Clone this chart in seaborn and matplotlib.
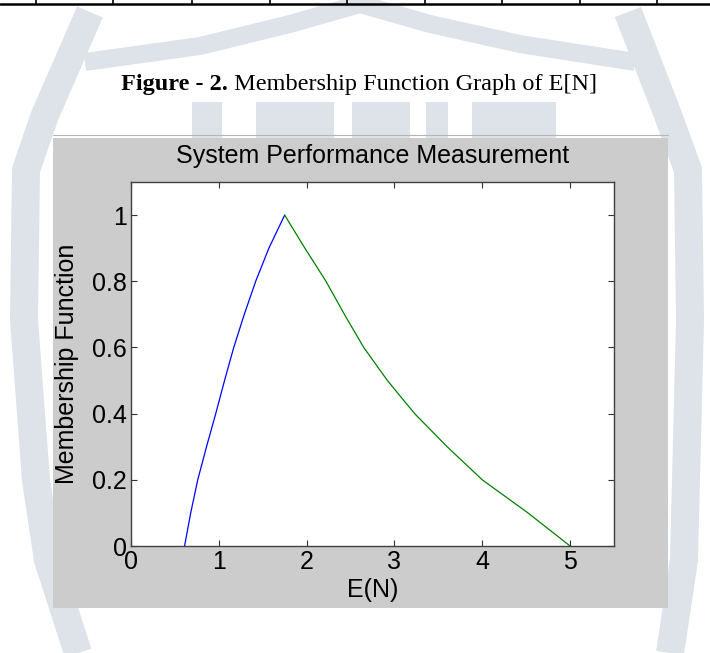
import matplotlib
matplotlib.use("Agg")
import matplotlib.pyplot as plt
import seaborn as sns
import pandas as pd
from matplotlib.patches import Rectangle
from matplotlib.lines import Line2D

# ---------------- data ----------------
alpha_levels = [0.0, 0.1, 0.2, 0.3, 0.4, 0.5, 0.6, 0.7, 0.8, 0.9, 1.0]
left_en = [0.61, 0.68, 0.76, 0.86, 0.965, 1.065, 1.17, 1.29, 1.42, 1.57, 1.75]
right_en = [5.0, 4.52, 4.0, 3.60, 3.23, 2.92, 2.65, 2.43, 2.22, 1.98, 1.75]
x_ticks = [0, 1, 2, 3, 4, 5]
x_tick_labels = ["0", "1", "2", "3", "4", "5"]
y_ticks = [0, 0.2, 0.4, 0.6, 0.8, 1.0]
y_tick_labels = ["0", "0.2", "0.4", "0.6", "0.8", "1"]
title_text = "System Performance Measurement"
x_label = "E(N)"
y_label = "Membership Function"
caption_bold = "Figure - 2."
caption_rest = " Membership Function Graph of E[N]"

# ---------------- style ----------------
sns.set_theme(style="ticks")
plt.rcParams["font.family"] = ["Liberation Sans", "DejaVu Sans"]

W, H = 710, 653
fig = plt.figure(figsize=(W / 100, H / 100), dpi=100)
fig.patch.set_facecolor("white")


def fx(x):
    return x / W


def fy(y):
    return 1 - y / H


WM = "#dde3e8"  # faint watermark colour


def band(points, width_px):
    xs = [fx(p[0]) for p in points]
    ys = [fy(p[1]) for p in points]
    fig.add_artist(Line2D(xs, ys, transform=fig.transFigure, color=WM,
                          lw=width_px * 0.72, solid_capstyle="butt",
                          solid_joinstyle="round", zorder=-3))


# faint watermark (shield outline + letter tops)
band([(85, 62), (200, 46), (290, 24), (360, 4), (430, 24), (520, 44), (635, 62)], 18)
band([(90, 12), (45, 115), (26, 170), (24, 320), (36, 480), (48, 560), (78, 653)], 28)
band([(628, 12), (668, 115), (688, 170), (690, 320), (686, 480), (684, 560), (670, 653)], 28)
for x0, x1 in [(192, 222), (256, 334), (352, 410), (426, 448), (472, 556)]:
    fig.add_artist(Rectangle((fx(x0), fy(140)), (x1 - x0) / W, 38 / H,
                             transform=fig.transFigure, facecolor=WM,
                             edgecolor="none", zorder=-3))

# table border remnant at the very top
fig.add_artist(Line2D([0, 1], [fy(4), fy(4)], transform=fig.transFigure,
                      color="black", lw=1.8))
for cx in [36, 113, 192, 270, 347, 425, 502, 580, 657]:
    fig.add_artist(Line2D([fx(cx), fx(cx)], [1, fy(4)], transform=fig.transFigure,
                          color="black", lw=1.2))

# grey MATLAB figure window
fig.add_artist(Rectangle((fx(53), fy(608)), 615 / W, 470 / H, transform=fig.transFigure,
                         facecolor="#cccccc", edgecolor="none", zorder=-1))
fig.add_artist(Line2D([fx(53), fx(668)], [fy(135), fy(135)], transform=fig.transFigure,
                      color="#b5b5b5", lw=0.8))

ax = fig.add_axes([fx(131), fy(546), 483 / W, 364 / H])
ax.set_facecolor("white")

df = pd.DataFrame({
    "E": left_en + right_en,
    "mu": alpha_levels + alpha_levels,
    "branch": ["left"] * len(left_en) + ["right"] * len(right_en),
})
sns.lineplot(data=df, x="E", y="mu", hue="branch",
             palette={"left": "#0000ff", "right": "#008000"},
             sort=False, estimator=None, lw=0.9, legend=False, ax=ax)

ax.set_xlim(0, 5.5)
ax.set_ylim(0, 1.1)
ax.set_xticks(x_ticks)
ax.set_xticklabels(x_tick_labels)
ax.set_yticks(y_ticks)
ax.set_yticklabels(y_tick_labels)
FS = 18
ax.tick_params(direction="in", length=4, width=0.8, top=True, right=True,
               labelsize=FS, color="#333333", labelcolor="black")
ax.tick_params(axis="x", pad=3)
ax.tick_params(axis="y", pad=3)
for s in ax.spines.values():
    s.set_color("#404040")
    s.set_linewidth(1.0)

ax.set_xlabel(x_label, fontsize=FS, color="black")
ax.set_ylabel(y_label, fontsize=FS, color="black")
ax.xaxis.set_label_coords(0.5, -0.088)
ax.yaxis.set_label_coords(-0.108, 0.5)
ax.set_title(title_text, fontsize=FS, pad=14, color="black")

# caption above the figure
serif = ["Liberation Serif", "DejaVu Serif"]
cap_size = 17.5
renderer = fig.canvas.get_renderer()
t1 = fig.text(0, fy(90), caption_bold, fontsize=cap_size, fontweight="bold",
              family=serif, ha="left", va="baseline", color="black")
t2 = fig.text(0, fy(90), caption_rest, fontsize=cap_size,
              family=serif, ha="left", va="baseline", color="black")
w1 = t1.get_window_extent(renderer).width
w2 = t2.get_window_extent(renderer).width
start = 359 - (w1 + w2) / 2
t1.set_x(fx(start))
t2.set_x(fx(start + w1))

fig.savefig("out.png", dpi=100)
